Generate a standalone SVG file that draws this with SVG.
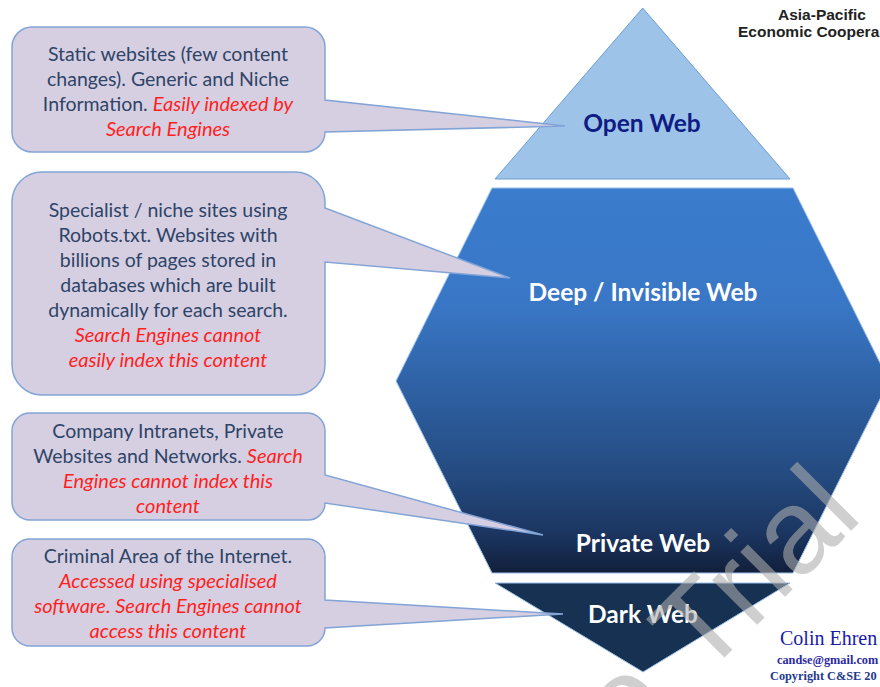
<svg xmlns="http://www.w3.org/2000/svg" width="880" height="687" viewBox="0 0 880 687">
<defs>
<linearGradient id="deepGrad" gradientUnits="userSpaceOnUse" x1="0" y1="188" x2="0" y2="573">
<stop offset="0" stop-color="#3b7ccd"/>
<stop offset="0.3" stop-color="#3977c6"/>
<stop offset="0.55" stop-color="#2d5e9f"/>
<stop offset="0.75" stop-color="#244a7f"/>
<stop offset="0.9" stop-color="#1b3560"/>
<stop offset="1" stop-color="#111f3a"/>
</linearGradient>
<style>
.callout{fill:#d6cfe1;stroke:#82a4d6;stroke-width:1.5}
.ct{font-family:Lato,"Open Sans",sans-serif;font-size:19.5px;fill:#2e4468;text-anchor:middle}
.red{fill:#ff1f1f;font-style:italic;font-size:20px}
.lbl{font-family:Lato,"Open Sans",sans-serif;font-weight:bold;font-size:24.5px;text-anchor:middle;fill:#ffffff}
.serif{font-family:"Liberation Serif",serif}
</style>
</defs>
<rect width="880" height="687" fill="#ffffff"/>

<g id="open-web">
<polygon points="642.7,8 790,179 495,179" fill="#9dc3e8" stroke="#6d9dd3" stroke-width="1"/>
<text class="lbl" x="642" y="132" style="fill:#0e1c84">Open Web</text>
</g>

<g id="deep-web">
<polygon points="492,188 793,188 889,381 793,573 492,573 396,381" fill="url(#deepGrad)" stroke="#9cc0ea" stroke-width="1"/>
<text class="lbl" x="643" y="301">Deep / Invisible Web</text>
</g>

<g id="private-web">
<text class="lbl" x="643" y="552">Private Web</text>
</g>

<g id="dark-web">
<polygon points="495,583 790,583 643,672" fill="#163152" stroke="#9cc0ea" stroke-width="1"/>
<text class="lbl" x="643" y="623">Dark Web</text>
</g>

<g id="connectors">
<g id="callout-open">
<path class="callout" d="M32,27 H305 A20,20 0 0 1 325,47 V100 L565,126 L325,132 A20,20 0 0 1 305,152 H32 A20,20 0 0 1 12,132 V47 A20,20 0 0 1 32,27 Z"/>
<text class="ct" x="168" y="61">Static websites (few content</text>
<text class="ct" x="168" y="86">changes). Generic and Niche</text>
<text class="ct" x="168" y="111">Information. <tspan class="red">Easily indexed by</tspan></text>
<text class="ct red" x="168" y="136">Search Engines</text>
</g>
<g id="callout-deep">
<path class="callout" d="M42,172 H295 A30,30 0 0 1 325,202 V208 L510,278 L325,262 V365 A30,30 0 0 1 295,395 H42 A30,30 0 0 1 12,365 V202 A30,30 0 0 1 42,172 Z"/>
<text class="ct" x="168" y="217">Specialist / niche sites using</text>
<text class="ct" x="168" y="242">Robots.txt. Websites with</text>
<text class="ct" x="168" y="267">billions of pages stored in</text>
<text class="ct" x="168" y="292">databases which are built</text>
<text class="ct" x="168" y="317">dynamically for each search.</text>
<text class="ct red" x="168" y="342">Search Engines cannot</text>
<text class="ct red" x="168" y="367">easily index this content</text>
</g>
<g id="callout-private">
<path class="callout" d="M30,413 H307 A18,18 0 0 1 325,431 V475 L543,535 L325,503 A17,17 0 0 1 307,520 H30 A18,18 0 0 1 12,502 V431 A18,18 0 0 1 30,413 Z"/>
<text class="ct" x="168" y="438">Company Intranets, Private</text>
<text class="ct" x="168" y="463">Websites and Networks. <tspan class="red">Search</tspan></text>
<text class="ct red" x="168" y="488">Engines cannot index this</text>
<text class="ct red" x="168" y="513">content</text>
</g>
<g id="callout-dark">
<path class="callout" d="M30,539 H307 A18,18 0 0 1 325,557 V600 L563,614 L325,628 A18,18 0 0 1 307,646 H30 A18,18 0 0 1 12,628 V557 A18,18 0 0 1 30,539 Z"/>
<text class="ct" x="168" y="563">Criminal Area of the Internet.</text>
<text class="ct red" x="168" y="588">Accessed using specialised</text>
<text class="ct red" x="168" y="613">software. Search Engines cannot</text>
<text class="ct red" x="168" y="638">access this content</text>
</g>
</g>

<g id="apec">
<text x="778" y="20" style="font-family:'Liberation Sans',Arial,sans-serif;font-weight:bold;font-size:15.5px;fill:#222222">Asia-Pacific</text>
<text x="738" y="37" style="font-family:'Liberation Sans',Arial,sans-serif;font-weight:bold;font-size:15.5px;fill:#222222">Economic Coopera</text>
</g>

<g id="author">
<text class="serif" x="780" y="645" style="font-size:20px;fill:#1a1aa8">Colin Ehren</text>
<text class="serif" x="777" y="664" style="font-size:12.3px;font-weight:bold;fill:#2a2aa0">candse@gmail.com</text>
<text class="serif" x="770" y="680" style="font-size:12.3px;font-weight:bold;fill:#243a8c">Copyright C&amp;SE 20</text>
</g>

<g id="watermark" transform="translate(704,678) rotate(-45)" opacity="0.58">
<text x="-108" y="0" style="font-family:'Liberation Sans',Arial,sans-serif;font-size:120px;fill:#aeaeae">o<tspan dx="8"> Trial</tspan></text>
</g>
</svg>
